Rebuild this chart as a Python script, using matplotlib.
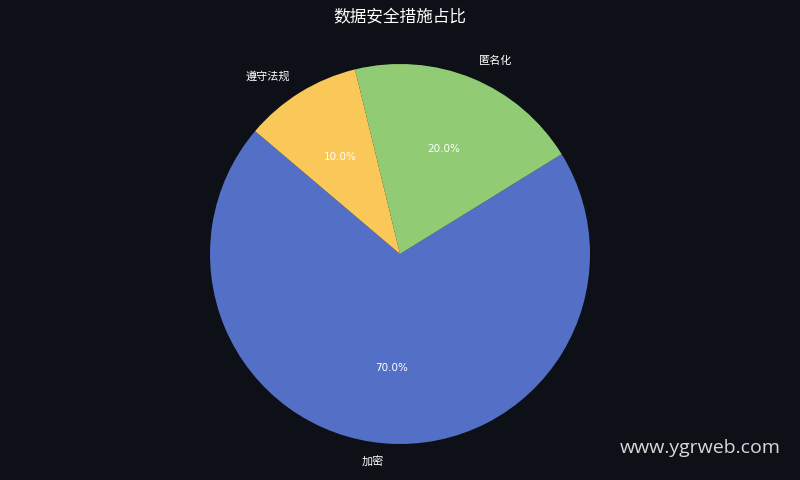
import matplotlib.pyplot as plt

plt.rcParams['font.family'] = ['Noto Sans CJK SC', 'DejaVu Sans']

# 数据
labels = ['加密', '匿名化', '遵守法规']
sizes = [70, 20, 10]
colors = ['#5470c6', '#91cc75', '#fac858']
bg = '#0d1016'

fig = plt.figure(figsize=(8, 4.8), dpi=100, facecolor=bg)
ax = fig.add_axes([0.2625, 0.075, 0.475, 0.79167])
ax.set_facecolor(bg)

wedges, texts, autotexts = ax.pie(sizes, labels=labels, colors=colors,
                                  autopct='%1.1f%%', startangle=139.7,
                                  textprops={'color': 'white', 'fontsize': 8})
for t in autotexts:
    t.set_fontfamily('DejaVu Sans')
    t.set_fontsize(7.5)
ax.set_xlim(-1, 1)
ax.set_ylim(-1, 1)
ax.set_aspect('equal')
ax.axis('off')

fig.text(0.5, 0.962, '数据安全措施占比', color='white', fontsize=12,
         ha='center', va='center')
fig.text(0.976, 0.066, 'www.ygrweb.com', color='#d8d8d8', fontsize=14,
         family='Open Sans', ha='right', va='center')

fig.savefig('out.png', dpi=100, facecolor=bg)
